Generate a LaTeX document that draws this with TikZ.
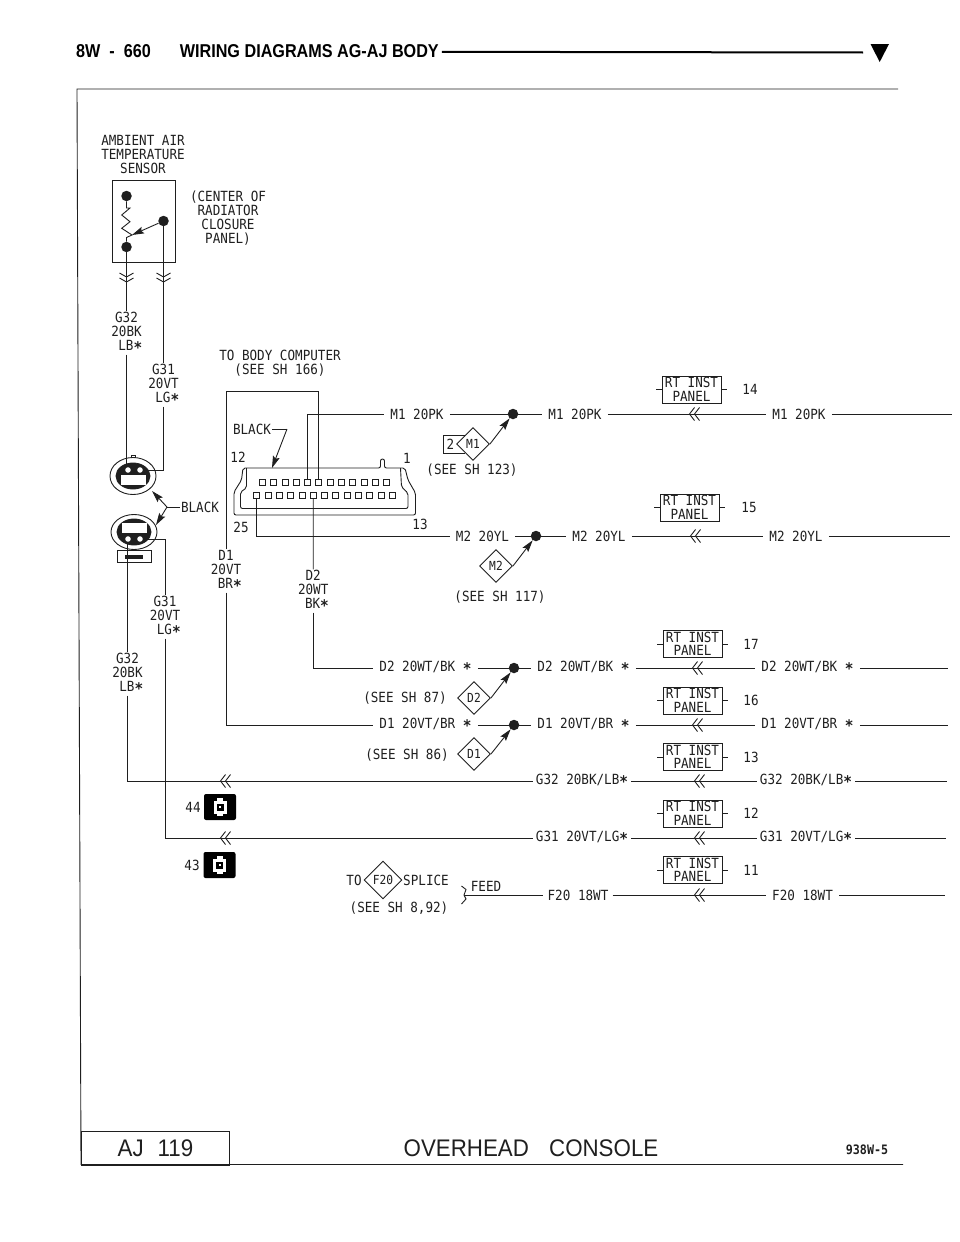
\documentclass[tikz,border=0pt]{standalone}
\usepackage{fontspec}
\setmainfont[FakeStretch=0.9]{DejaVu Sans Mono}
\newfontfamily\headfont[FakeStretch=0.87]{Liberation Sans}
\newfontfamily\thinfont[FakeStretch=0.93]{Liberation Sans}
\usetikzlibrary{shapes.geometric, arrows.meta}
\colorlet{ink}{black!88}
\tikzstyle{tag} = [align=center, inner sep=0.5pt, inner xsep=4pt, font=\fontsize{14}{14}\selectfont, text=ink]
\tikzstyle{wirelabel} = [tag, inner xsep=6pt]
\tikzstyle{wire} = [draw=ink, line width=0.9pt]
\tikzstyle{arrow} = [wire, -{Stealth[length=12pt,width=7pt,inset=2pt]}]
\tikzstyle{jct} = [circle, fill=ink, minimum size=10.5pt, inner sep=0pt]
\tikzstyle{dia} = [diamond, draw=ink, line width=0.9pt, fill=white, aspect=1, inner sep=0pt, minimum size=33pt, font=\fontsize{12.5}{14}\selectfont, text=ink]
\tikzstyle{panel} = [rectangle, draw=ink, line width=0.9pt, minimum width=59pt, minimum height=27pt, inner sep=0pt, align=center, font=\fontsize{14}{13.5}\selectfont, text=ink]
\tikzstyle{ecupin} = [rectangle, draw=ink, line width=0.8pt, minimum size=6pt, inner sep=0pt, node distance=11.3pt]
\tikzstyle{cav} = [circle, draw=ink, fill=white, line width=1.1pt, minimum size=7pt, inner sep=0pt]
\tikzstyle{icon} = [rectangle, rounded corners=2pt, fill=black, minimum width=32pt, minimum height=26pt, inner sep=0pt]
\tikzstyle{iconw} = [rectangle, fill=white, minimum width=13pt, minimum height=13pt, inner sep=0pt]
\tikzstyle{icont} = [rectangle, fill=white, minimum width=6pt, minimum height=18pt, inner sep=0pt]
\tikzstyle{iconb} = [rectangle, fill=black, minimum size=7pt, inner sep=0pt]
\tikzstyle{icond} = [rectangle, fill=white, minimum size=2pt, inner sep=0pt]
\newcommand{\astk}{\raisebox{-.45ex}{\fontsize{16}{14}\selectfont\bfseries *}}
\tikzset{
  chevl/.pic={\draw [wire] (2.5,-6.5) -- (-2.5,0) -- (2.5,6.5); \draw [wire] (7.5,-6.5) -- (2.5,0) -- (7.5,6.5);},
  chevd/.pic={\draw [wire] (-7,-3) -- (0,1) -- (7,-3); \draw [wire] (-7,2) -- (0,6) -- (7,2);}
}

\begin{document}
\begin{tikzpicture}[x=1pt, y=-1pt, node distance=56.5pt]
\useasboundingbox (0,0) rectangle (960,1242);

\node (head) [anchor=west, inner sep=3pt, text=black, font=\headfont\bfseries\fontsize{18.6}{20}\selectfont] at (73,51.5) {8W\hspace{9pt}-\hspace{9pt}660\hspace{29pt}WIRING DIAGRAMS AG-AJ BODY};
\coordinate (headend) at (863,52.5);
\draw [line width=2pt] (head) -- (headend);
\fill (870.5,44) -- (889,44) -- (879.7,62) -- cycle;

\draw [wire] (898,89) -- (77,89) -- (81,1164.5) -- (903,1164.5);
\node (aj) [draw=ink, line width=0.9pt, anchor=north west, minimum width=148pt, minimum height=33.5pt, inner sep=0pt, font=\thinfont\fontsize{24}{26}\selectfont, text=ink] at (81,1131) {AJ\hspace{14pt}119};
\node (console) [font=\thinfont\fontsize{24}{26}\selectfont, text=ink] at (531,1148.5) {OVERHEAD\hspace{14pt} CONSOLE};
\node (figno) [font=\bfseries\fontsize{13}{13}\selectfont, text=ink] at (867,1150) {938W-5};

\node (title) [tag] at (143,154.5) {AMBIENT AIR\\TEMPERATURE\\SENSOR};
\node (where) [tag] at (228,218) {(CENTER OF\\RADIATOR\\CLOSURE\\PANEL)};
\node (sensor) [rectangle, draw=ink, line width=0.9pt, minimum width=63pt, minimum height=82pt] at (143.5,221) {};
\node (sdot1) [jct] at (126.5,196) {};
\node (sdot2) [jct] at (126.5,247) {};
\node (sdot3) [jct] at (163.5,221) {};
\coordinate (wiper) at (132,235);
\draw [wire] (sdot1) -- (126.5,208) -- (130,208) -- (121.7,215) -- (130,221.7) -- (121.7,228.3) -- (wiper) -- (126.5,237.5) -- (sdot2);
\draw [arrow] (sdot3) -- (wiper);
\pic at (126.5,276) {chevd};
\pic at (163.5,276) {chevd};

\node (g32a) [tag] at (126.5,333) {G32\\20BK\\~LB\astk};
\node (g31a) [tag] at (163.5,385) {G31\\20VT\\~LG\astk};
\node (g31b) [tag] at (165,617) {G31\\20VT\\~LG\astk};
\node (g32b) [tag] at (127.5,674) {G32\\20BK\\~LB\astk};
\node (d1lab) [tag] at (226,571) {D1\\20VT\\~BR\astk};
\node (d2lab) [tag] at (313.2,591) {D2\\20WT\\~BK\astk};
\node (body) [tag] at (280,363) {TO BODY COMPUTER\\(SEE SH 166)};

\node (conu) [ellipse, draw=ink, line width=0.9pt, minimum width=46pt, minimum height=37pt, inner sep=0pt] at (133,476) {};
\node (conui) [ellipse, draw=ink, fill=ink, line width=0.9pt, minimum width=34pt, minimum height=26pt, inner sep=0pt] at (133,476) {};
\node (conl) [ellipse, draw=ink, line width=0.9pt, minimum width=46pt, minimum height=35pt, inner sep=0pt] at (134,532) {};
\node (conli) [ellipse, draw=ink, fill=ink, line width=0.9pt, minimum width=34pt, minimum height=26pt, inner sep=0pt] at (134,532) {};
\node (baru) [rectangle, fill=white, minimum width=25pt, minimum height=10pt, inner sep=0pt] at (133,480) {};
\node (barl) [rectangle, fill=white, minimum width=25pt, minimum height=10pt, inner sep=0pt] at (134,528) {};
\node (cava) [cav] at (128,470) {};
\node (cavb) [cav] at (140,470) {};
\node (cavc) [cav] at (128,539) {};
\node (cavd) [cav] at (140,539) {};
\node (brk) [rectangle, draw=ink, line width=0.9pt, minimum width=34pt, minimum height=12pt, inner sep=0pt] at (134,556) {};
\node (brkb) [rectangle, fill=ink, minimum width=18pt, minimum height=4pt, inner sep=0pt] at (134,557) {};
\draw [wire] (131.5,458) -- (131.5,455) -- (135.5,455) -- (135.5,458);

\coordinate (g31c) at (144,470);
\coordinate (g32c) at (126.5,467);
\coordinate (g31d) at (144,539);
\coordinate (g32d) at (127.5,542);
\draw [wire] (sdot2) -- (g32a);
\draw [wire] (g32a) -- (g32c);
\draw [wire] (sdot3) -- (g31a);
\draw [wire] (g31a) |- (g31c);
\draw [wire] (g31d) -| (g31b);
\draw [wire] (g32d) -- (g32b);

\node (blackcon) [tag, inner xsep=1pt] at (200,507) {BLACK};
\coordinate (blackfork) at (167,507);
\coordinate (blackup) at (152,491);
\coordinate (blacklo) at (156,525);
\draw [wire] (blackcon) -- (blackfork);
\draw [arrow] (blackfork) -- (blackup);
\draw [arrow] (blackfork) -- (blacklo);

\draw [wire, rounded corners=2pt] (248,468) -- (243,468) -- (241.5,480) -- (234,492) -- (234,515) -- (415.5,515) -- (415.5,493) -- (408,480) -- (405,468) -- (384.5,468) -- (384.5,459) -- (380.5,459) -- (380.5,468) -- cycle;
\draw [wire, rounded corners=2pt] (246.5,468) -- (246.5,488) -- (240.5,492) -- (240.5,508.5) -- (408,508.5) -- (408,493) -- (401.5,487) -- (400.5,468);

\node (p12) [ecupin] at (262.3,482) {};
\node (p11) [ecupin, right of=p12] {};
\node (p10) [ecupin, right of=p11] {};
\node (p9) [ecupin, right of=p10] {};
\node (p8) [ecupin, right of=p9] {};
\node (p7) [ecupin, right of=p8] {};
\node (p6) [ecupin, right of=p7] {};
\node (p5) [ecupin, right of=p6] {};
\node (p4) [ecupin, right of=p5] {};
\node (p3) [ecupin, right of=p4] {};
\node (p2) [ecupin, right of=p3] {};
\node (p1) [ecupin, right of=p2] {};
\node (p25) [ecupin] at (256.7,495) {};
\node (p24) [ecupin, right of=p25] {};
\node (p23) [ecupin, right of=p24] {};
\node (p22) [ecupin, right of=p23] {};
\node (p21) [ecupin, right of=p22] {};
\node (p20) [ecupin, right of=p21] {};
\node (p19) [ecupin, right of=p20] {};
\node (p18) [ecupin, right of=p19] {};
\node (p17) [ecupin, right of=p18] {};
\node (p16) [ecupin, right of=p17] {};
\node (p15) [ecupin, right of=p16] {};
\node (p14) [ecupin, right of=p15] {};
\node (p13) [ecupin, right of=p14] {};

\node (n12) [tag] at (238,457) {12};
\node (n1) [tag] at (407,458) {1};
\node (n25) [tag] at (241,527) {25};
\node (n13) [tag] at (420,524) {13};

\node (blackecu) [tag, inner xsep=1pt] at (252,429) {BLACK};
\coordinate (blackbend) at (287,429);
\coordinate (blacktip) at (272,468);
\draw [wire] (blackecu) -- (blackbend);
\draw [arrow] (blackbend) -- (blacktip);

\node (m1a) [wirelabel] at (417,414) {M1 20PK};
\node (m1j) [jct, right of=m1a, xshift=39.5pt] {};
\node (m1b) [wirelabel, right of=m1j, xshift=5.5pt] {M1 20PK};
\node (m1c) [wirelabel, right of=m1b, xshift=167.5pt] {M1 20PK};
\coordinate (m1e) at (952,414);
\node (m2a) [wirelabel] at (482.5,536) {M2 20YL};
\node (m2j) [jct, right of=m2a, xshift=-3pt] {};
\node (m2b) [wirelabel, right of=m2j, xshift=6.5pt] {M2 20YL};
\node (m2c) [wirelabel, right of=m2b, xshift=140.5pt] {M2 20YL};
\coordinate (m2e) at (950,536);
\node (d2a) [wirelabel] at (425.5,668) {D2 20WT/BK \astk};
\node (d2j) [jct, right of=d2a, xshift=32pt] {};
\node (d2b) [wirelabel, right of=d2j, xshift=13pt] {D2 20WT/BK \astk};
\node (d2c) [wirelabel, right of=d2b, xshift=167.5pt] {D2 20WT/BK \astk};
\coordinate (d2e) at (948,668);
\node (d1a) [wirelabel] at (425.5,725) {D1 20VT/BR \astk};
\node (d1j) [jct, right of=d1a, xshift=32pt] {};
\node (d1b) [wirelabel, right of=d1j, xshift=13pt] {D1 20VT/BR \astk};
\node (d1c) [wirelabel, right of=d1b, xshift=167.5pt] {D1 20VT/BR \astk};
\coordinate (d1e) at (948,725);
\node (g32r) [wirelabel, inner xsep=3pt] at (582,781) {G32 20BK/LB\astk};
\node (g32s) [wirelabel, inner xsep=3pt, right of=g32r, xshift=167.5pt] {G32 20BK/LB\astk};
\coordinate (g32e) at (947,781);
\node (g31r) [wirelabel, inner xsep=3pt] at (582,838) {G31 20VT/LG\astk};
\node (g31s) [wirelabel, inner xsep=3pt, right of=g31r, xshift=167.5pt] {G31 20VT/LG\astk};
\coordinate (g31e) at (946,838);
\node (f20a) [wirelabel, inner xsep=4pt] at (578,895) {F20 18WT};
\node (f20b) [wirelabel, right of=f20a, xshift=168pt] {F20 18WT};
\coordinate (f20e) at (945,895);

\draw [wire] (p8.north) |- (m1a);
\draw [wire] (m1a) -- (m1j);
\draw [wire] (m1j) -- (m1b);
\draw [wire] (m1b) -- (m1c);
\draw [wire] (m1c) -- (m1e);
\draw [wire] (p25.south) |- (m2a);
\draw [wire] (m2a) -- (m2j);
\draw [wire] (m2j) -- (m2b);
\draw [wire] (m2b) -- (m2c);
\draw [wire] (m2c) -- (m2e);
\coordinate (d1top) at (226,391);
\draw [wire] (d1lab.north) -- (d1top) -| (p7.north);
\draw [wire] (d1lab) |- (d1a);
\draw [wire] (d1a) -- (d1j);
\draw [wire] (d1j) -- (d1b);
\draw [wire] (d1b) -- (d1c);
\draw [wire] (d1c) -- (d1e);
\draw [wire] (p20.south) -- (d2lab);
\draw [wire] (d2lab) |- (d2a);
\draw [wire] (d2a) -- (d2j);
\draw [wire] (d2j) -- (d2b);
\draw [wire] (d2b) -- (d2c);
\draw [wire] (d2c) -- (d2e);
\draw [wire] (g32b) |- (g32r);
\draw [wire] (g32r) -- (g32s);
\draw [wire] (g32s) -- (g32e);
\draw [wire] (g31b) |- (g31r);
\draw [wire] (g31r) -- (g31s);
\draw [wire] (g31s) -- (g31e);
\draw [wire] (f20a) -- (f20b);
\draw [wire] (f20b) -- (f20e);

\pic at (692,414) {chevl};
\pic at (693,536) {chevl};
\pic at (695,668) {chevl};
\pic at (695,725) {chevl};
\pic at (697,781) {chevl};
\pic at (697,838) {chevl};
\pic at (697,895) {chevl};
\pic at (223,781) {chevl};
\pic at (223,838) {chevl};

\node (m1d) [dia] at (473,444) {M1};
\node (m2d) [dia] at (496,566) {M2};
\node (d2d) [dia] at (474,698) {D2};
\node (d1d) [dia] at (474,754) {D1};
\draw [arrow] (m1d.east) -- (m1j);
\draw [arrow] (m2d.east) -- (m2j);
\draw [arrow] (d2d.east) -- (d2j);
\draw [arrow] (d1d.east) -- (d1j);
\node (two) [tag, inner sep=0pt] at (450.5,444) {2};
\draw [wire] (465,435) -- (443,435) -- (443,453) -- (465,453);
\node (seem1) [tag] at (472,470) {(SEE SH 123)};
\node (seem2) [tag] at (500,597) {(SEE SH 117)};
\node (seed2) [tag] at (405,698) {(SEE SH 87)};
\node (seed1) [tag] at (407,755) {(SEE SH 86)};

\node (pan14) [panel] at (691.5,389.5) {RT INST\\PANEL};
\node (pan15) [panel] at (689.5,507.5) {RT INST\\PANEL};
\node (pan17) [panel] at (692.5,644) {RT INST\\PANEL};
\node (pan16) [panel, below of=pan17] {RT INST\\PANEL};
\node (pan13) [panel, below of=pan16] {RT INST\\PANEL};
\node (pan12) [panel, below of=pan13] {RT INST\\PANEL};
\node (pan11) [panel, below of=pan12] {RT INST\\PANEL};
\node (num14) [tag, right of=pan14, xshift=2pt] {14};
\node (num15) [tag, right of=pan15, xshift=3pt] {15};
\node (num17) [tag, right of=pan17, xshift=2pt] {17};
\node (num16) [tag, right of=pan16, xshift=2pt] {16};
\node (num13) [tag, right of=pan13, xshift=2pt] {13};
\node (num12) [tag, right of=pan12, xshift=2pt] {12};
\node (num11) [tag, right of=pan11, xshift=2pt] {11};
\draw [wire] (pan14.west) -- ++(-6,0);
\draw [wire] (pan14.east) -- ++(6,0);
\draw [wire] (pan15.west) -- ++(-6,0);
\draw [wire] (pan15.east) -- ++(6,0);
\draw [wire] (pan17.west) -- ++(-6,0);
\draw [wire] (pan17.east) -- ++(6,0);
\draw [wire] (pan16.west) -- ++(-6,0);
\draw [wire] (pan16.east) -- ++(6,0);
\draw [wire] (pan13.west) -- ++(-6,0);
\draw [wire] (pan13.east) -- ++(6,0);
\draw [wire] (pan12.west) -- ++(-6,0);
\draw [wire] (pan12.east) -- ++(6,0);
\draw [wire] (pan11.west) -- ++(-6,0);
\draw [wire] (pan11.east) -- ++(6,0);

\node (ic44) [icon] at (220,807) {};
\node (ic44w) [iconw] at (ic44) {};
\node (ic44t) [icont] at (ic44) {};
\node (ic44b) [iconb] at (ic44) {};
\node (ic44d) [icond] at (ic44) {};
\node (lab44) [tag] at (193,807) {44};
\node (ic43) [icon] at (219.5,865) {};
\node (ic43w) [iconw] at (ic43) {};
\node (ic43t) [icont] at (ic43) {};
\node (ic43b) [iconb] at (ic43) {};
\node (ic43d) [icond] at (ic43) {};
\node (lab43) [tag] at (192,865) {43};

\node (f20d) [dia, minimum size=38pt] at (383,880) {F20};
\node (to) [tag, inner sep=0pt] at (354,880) {TO};
\node (splice) [tag, inner sep=0pt] at (426,880) {SPLICE};
\node (seef20) [tag] at (399,908) {(SEE SH 8,92)};
\node (feed) [tag, inner sep=0pt] at (486,886) {FEED};
\coordinate (feedj) at (464,895);
\draw [wire] (461.5,886) -- (466,889.5) -- (feedj) -- (466,899) -- (461.5,904);
\draw [wire] (feedj) -- (f20a);

\end{tikzpicture}
\end{document}
